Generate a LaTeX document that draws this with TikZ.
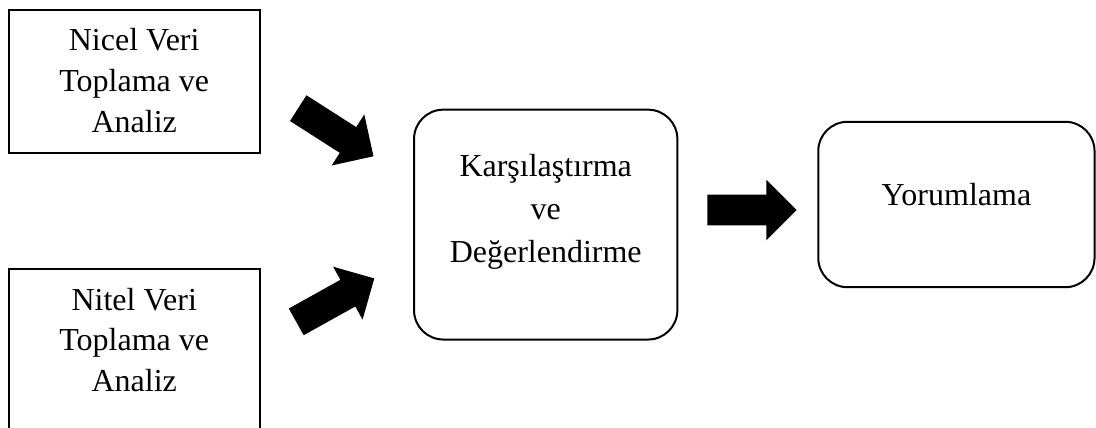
\documentclass[tikz,border=0pt]{standalone}
\usepackage{fontspec}
\setmainfont{Liberation Serif}
\usetikzlibrary{shapes.arrows}

\begin{document}
\begin{tikzpicture}[x=0.75pt, y=-0.75pt,
  kutu/.style={draw, line width=1.5pt, inner sep=0pt},
  yuvarlak/.style={kutu, rounded corners=22pt},
  yazi/.style={align=center, inner sep=0pt, font=\fontsize{24}{30.5}\selectfont},
  pil/.style={single arrow, fill=black, draw=none, inner xsep=0pt, inner ysep=11.25pt,
    minimum height=67pt, minimum width=45pt, single arrow head extend=11.25pt}]

\useasboundingbox (0,0) rectangle (1096,428);

\def\xl{134.2}; % left column
\def\xm{545.7}; % middle box
\def\xr{956.4}; % right box

\def\ynb{81.3}; % nicel box
\def\ytb{354.75}; % nitel box (runs off the bottom)
\def\ymb{224.6}; % karsilastirma box
\def\yrb{204.5}; % yorumlama box

% boxes
\node[kutu, minimum width=188.4pt, minimum height=107.5pt] (nicel) at (\xl, \ynb) {};
\node[kutu, minimum width=188.4pt, minimum height=127.9pt] (nitel) at (\xl, \ytb) {};
\node[yuvarlak, minimum width=197.5pt, minimum height=172.4pt] (karsi) at (\xm, \ymb) {};
\node[yuvarlak, minimum width=207.2pt, minimum height=124.1pt] (yorum) at (\xr, \yrb) {};

% texts
\node[yazi] (nicel-yazi) at (\xl, 80.7) {Nicel Veri\\Toplama ve\\Analiz};
\node[yazi] (nitel-yazi) at (\xl, 339.9) {Nitel Veri\\Toplama ve\\Analiz};
\node[yazi, font=\fontsize{24}{32}\selectfont] (karsi-yazi) at (\xm, 211.7) {Karşılaştırma\\ve\\Değerlendirme};
\node[yazi] (yorum-yazi) at (\xr, 194.2) {Yorumlama};

% block arrows
\node[pil, rotate=-32.6, anchor=tail] (ok1) at (298, 108) {};
\node[pil, rotate=29.1, anchor=tail] (ok2) at (296, 322) {};
\node[pil, anchor=tail] (ok3) at (707, 210) {};

\end{tikzpicture}
\end{document}
